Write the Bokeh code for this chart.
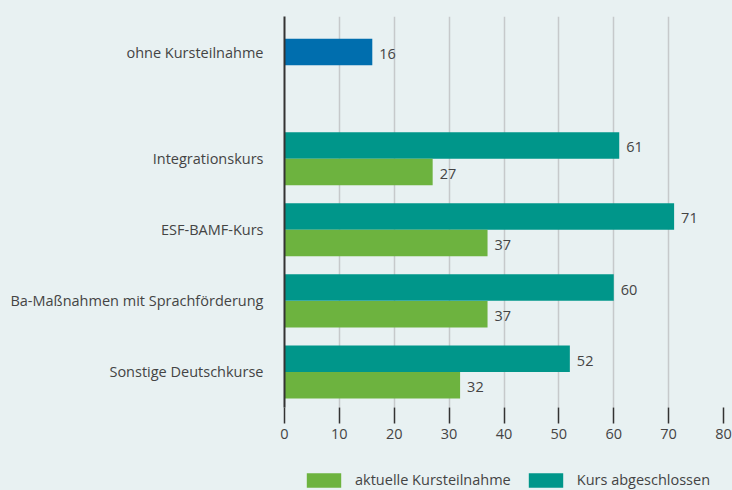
from bokeh.plotting import figure
from bokeh.models import Range1d, FixedTicker, ColumnDataSource, Legend, LegendItem
from bokeh.layouts import column
from bokeh.core.properties import value
from bokeh.embed import file_html
from bokeh.resources import INLINE

# ---- data ----
categories = ["Sonstige Deutschkurse", "Ba-Maßnahmen mit Sprachförderung", "ESF-BAMF-Kurs", "Integrationskurs"]
kurs_abgeschlossen = [52, 60, 71, 61]
aktuelle_teilnahme = [32, 37, 37, 27]
ohne_label = "ohne Kursteilnahme"
ohne_value = [16]
x_ticks = [0, 10, 20, 30, 40, 50, 60, 70, 80]
series_names = ["aktuelle Kursteilnahme", "Kurs abgeschlossen"]

# ---- styles ----
BG = "#e8f1f2"
TEAL = "#00968a"
GREEN = "#6db33f"
BLUE = "#006eae"
TXT = "#444444"
FONT = "Open Sans"
FS = "14.5px"

n = len(categories)
ypos = list(range(n))
ohne_pos = n + 0.5
half = 0.187
h = 0.373

p = figure(width=732, height=466, output_backend="svg", toolbar_location=None,
           x_range=Range1d(0, 80), y_range=Range1d(-0.5, 5.0),
           min_border_left=284, min_border_right=9, min_border_top=16, min_border_bottom=59)
p.background_fill_color = BG
p.border_fill_color = BG
p.outline_line_color = None

src_t = ColumnDataSource(dict(y=[v + half for v in ypos], x=kurs_abgeschlossen, lab=[str(v) for v in kurs_abgeschlossen]))
src_g = ColumnDataSource(dict(y=[v - half for v in ypos], x=aktuelle_teilnahme, lab=[str(v) for v in aktuelle_teilnahme]))
src_b = ColumnDataSource(dict(y=[ohne_pos], x=ohne_value, lab=[str(v) for v in ohne_value]))

p.hbar(y="y", right="x", left=0, height=h, source=src_t, fill_color=TEAL, line_color=None)
p.hbar(y="y", right="x", left=0, height=h, source=src_g, fill_color=GREEN, line_color=None)
p.hbar(y="y", right="x", left=0, height=h, source=src_b, fill_color=BLUE, line_color=None)

for s in (src_t, src_g, src_b):
    p.text(x="x", y="y", text="lab", source=s, x_offset=7, y_offset=2, text_baseline="middle",
           text_font=value(FONT), text_font_size=FS, text_color=TXT)

# x axis
p.xaxis.ticker = FixedTicker(ticks=x_ticks)
p.xaxis.axis_line_color = None
p.xaxis.major_tick_in = 0
p.xaxis.major_tick_out = 16
p.xaxis.major_tick_line_color = "#333333"
p.xaxis.major_tick_line_width = 1.5
p.xaxis.minor_tick_line_color = None
p.xaxis.major_label_standoff = 5
p.xaxis.major_label_text_font = FONT
p.xaxis.major_label_text_font_size = FS
p.xaxis.major_label_text_color = TXT

# y axis
p.yaxis.ticker = FixedTicker(ticks=ypos + [ohne_pos])
p.yaxis.major_label_overrides = {**{v: c for v, c in zip(ypos, categories)}, ohne_pos: ohne_label}
p.yaxis.major_tick_line_color = None
p.yaxis.minor_tick_line_color = None
p.yaxis.axis_line_color = "#333333"
p.yaxis.axis_line_width = 2
p.yaxis.major_label_standoff = 15
p.yaxis.major_label_text_font = FONT
p.yaxis.major_label_text_font_size = FS
p.yaxis.major_label_text_color = TXT

p.xgrid.grid_line_color = "#c6c9cb"
p.xgrid.grid_line_width = 1.5
p.ygrid.grid_line_color = None

# legend strip (its ranges keep the proxy bars out of view)
lg = figure(width=732, height=24, output_backend="svg", toolbar_location=None,
            x_range=Range1d(0, 80), y_range=Range1d(100, 101),
            x_axis_location=None, y_axis_location=None,
            min_border_left=284, min_border_right=9, min_border_top=0, min_border_bottom=0)
lg.background_fill_color = BG
lg.border_fill_color = BG
lg.outline_line_color = None
lg.grid.grid_line_color = None
lr_g = lg.hbar(y="y", right="x", left=0, height=h, source=src_g, fill_color=GREEN, line_color=None)
lr_t = lg.hbar(y="y", right="x", left=0, height=h, source=src_t, fill_color=TEAL, line_color=None)

legend = Legend(items=[LegendItem(label=series_names[0], renderers=[lr_g]),
                       LegendItem(label=series_names[1], renderers=[lr_t])],
                orientation="horizontal", location=(18, 1),
                glyph_width=43, glyph_height=18, label_height=18, label_standoff=10, spacing=13,
                padding=0, margin=0, border_line_color=None, background_fill_alpha=0,
                label_text_font=FONT, label_text_font_size=FS, label_text_color=TXT)
lg.add_layout(legend, "center")

layout = column(p, lg, spacing=0, styles={"background-color": BG})
open("out.html", "w").write(file_html(layout, INLINE))
